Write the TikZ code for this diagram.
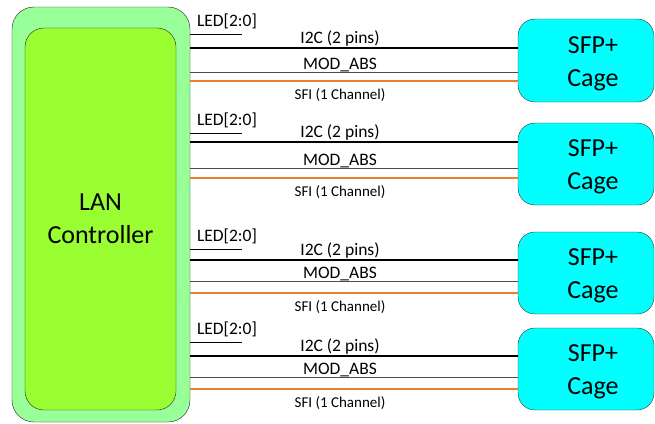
\documentclass[tikz,border=0pt]{standalone}
\usepackage{fontspec}
\setmainfont{Carlito}
\usetikzlibrary{positioning}
\definecolor{framegreen}{HTML}{99FF99}
\definecolor{coregreen}{HTML}{99FF33}
\definecolor{cagecyan}{HTML}{00FFFF}
\definecolor{sfiorange}{HTML}{ED7D31}

\begin{document}
\begin{tikzpicture}[x=1pt, y=-1pt,
    ctrlframe/.style={draw=black!85, fill=framegreen, rounded corners=22pt, inner sep=0pt},
    ctrlcore/.style={draw=black!85, fill=coregreen, rounded corners=19pt, align=center,
      font=\fontsize{26}{33}\selectfont},
    cagebox/.style={draw=black!80, fill=cagecyan, rounded corners=17pt, inner sep=0pt,
      minimum width=136pt},
    cagetext/.style={align=center, font=\fontsize{26}{33}\selectfont},
    siglabel/.style={inner sep=0pt, font=\fontsize{17.5}{20}\selectfont},
    sfilabel/.style={inner sep=0pt, font=\fontsize{15}{18}\selectfont},
    ledwire/.style={black, line width=0.9pt},
    i2cwire/.style={black, line width=1.8pt},
    modwire/.style={black!70, line width=0.9pt},
    sfiwire/.style={sfiorange, line width=1.6pt}]

      \useasboundingbox[fill=white] (0,0) rectangle (655,423);

      % LAN controller: outer frame and core
      \node[ctrlframe, minimum width=178pt, minimum height=415pt] (frame) at (101,214.5) {};
      \node[ctrlcore, minimum width=151pt, minimum height=382pt] (ctrl) at (100.5,219) {LAN\\Controller};

      % One SFP+ cage per port, with its four signal groups
      \foreach \n/\led/\ic/\md/\so/\ct/\cb in {1/34/48/72/81/19/102,
          2/133/142/168/178/123/205, 3/249/260/281/293/232/314, 4/342/356/377/389/328/410}{
        \node[cagebox, minimum height={(\cb-\ct)*1pt}] (sfp\n) at (586,{(\ct+\cb)/2}) {};
        \node[cagetext] at ([xshift=7pt, yshift=-3pt]sfp\n.center) {SFP+\\Cage};

        % LED stub
        \coordinate (led\n) at (242,\led);
        \draw[ledwire] (frame.east |- led\n) -- (led\n);
        \node[siglabel, anchor=base] at (227,{\led-8}) {LED[2:0]};

        % I2C
        \draw[i2cwire] (frame.east |- 0,\ic) -- (sfp\n.west |- 0,\ic);
        \node[siglabel, anchor=base] at (340,{\ic-5}) {I2C (2 pins)};

        % MOD_ABS
        \draw[modwire] (frame.east |- 0,\md) -- (sfp\n.west |- 0,\md);
        \node[siglabel, anchor=base] at (340,{\md-2.5}) {MOD\_ABS};

        % SFI
        \draw[sfiwire] (frame.east |- 0,\so) -- (sfp\n.west |- 0,\so);
        \node[sfilabel, anchor=base] at (340,{\so+18}) {SFI (1 Channel)};
      }
    \end{tikzpicture}
\end{document}
